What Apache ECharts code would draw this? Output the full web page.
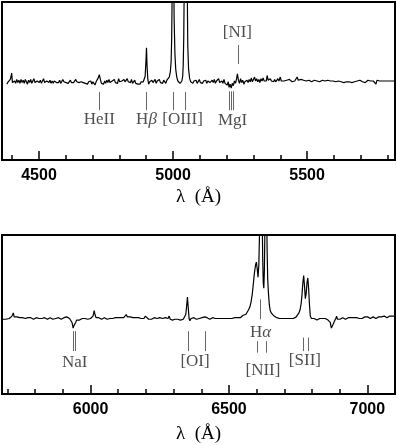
<!DOCTYPE html>
<html>
<head>
<meta charset="utf-8">
<script src="https://cdn.jsdelivr.net/npm/echarts@6/dist/echarts.min.js"></script>
<style>
  html, body { margin: 0; padding: 0; background: #fff; }
  #main { width: 397px; height: 445px; }
</style>
</head>
<body>
<div id="main"></div>
<script>
// spectrum, upper panel (wavelength in Å, relative flux)
var topSpectrum = [
  [4380,0.96],[4385,0.99],[4389,0.97],[4393,1.02],[4396,1.06],[4398,1.10],[4401,0.98],[4405,0.96],
  [4409,1.00],[4413,0.97],[4417,1.02],[4421,0.98],[4425,1.01],[4429,0.97],[4433,1.02],[4437,0.98],
  [4441,1.01],[4445,0.97],[4449,1.02],[4453,0.99],[4457,0.96],[4461,1.01],[4465,0.98],[4469,1.02],
  [4473,0.97],[4477,1.00],[4481,1.03],[4485,0.98],[4489,0.96],[4493,1.00],[4497,1.02],[4501,0.98],
  [4505,1.01],[4509,0.97],[4513,1.00],[4517,1.03],[4521,0.98],[4525,0.96],[4529,1.00],[4533,1.02],
  [4537,0.98],[4541,1.01],[4545,0.97],[4549,1.00],[4553,0.97],[4557,1.00],[4561,1.01],[4565,0.98],
  [4569,1.00],[4573,0.98],[4577,1.01],[4581,0.97],[4585,0.99],[4589,1.02],[4593,0.99],[4597,1.01],
  [4601,0.98],[4605,1.00],[4609,0.97],[4613,0.99],[4617,1.01],[4621,0.98],[4625,1.00],[4629,0.98],
  [4633,1.00],[4637,1.02],[4641,0.99],[4645,1.01],[4649,0.98],[4653,0.97],[4657,0.99],[4661,0.97],
  [4665,0.98],[4669,1.00],[4673,0.97],[4677,0.99],[4681,0.96],[4685,0.99],[4689,0.97],[4693,1.00],
  [4697,0.96],[4701,0.99],[4705,0.97],[4709,0.95],[4713,0.99],[4717,1.01],[4721,1.04],[4725,1.08],
  [4729,1.02],[4733,0.97],[4737,0.99],[4741,0.96],[4745,1.00],[4749,0.97],[4753,1.01],[4757,0.98],
  [4761,1.02],[4765,0.98],[4769,0.96],[4773,1.00],[4777,0.98],[4781,1.02],[4785,0.98],[4789,1.00],
  [4793,0.97],[4797,1.03],[4801,0.99],[4805,0.97],[4809,1.00],[4813,0.98],[4817,1.02],[4821,0.99],
  [4825,0.97],[4829,1.03],[4833,0.99],[4837,1.01],[4841,0.98],[4845,1.02],[4849,0.97],[4853,0.99],
  [4857,1.01],[4861,0.97],[4865,0.99],[4869,0.96],[4873,0.98],[4877,0.96],[4881,0.99],[4885,0.97],
  [4889,0.99],[4893,1.00],[4896,1.06],[4899,1.25],[4901,1.42],[4903,1.20],[4906,1.02],[4909,0.96],
  [4913,0.99],[4917,0.97],[4921,1.01],[4925,0.98],[4929,1.00],[4933,1.02],[4937,0.97],[4941,1.00],
  [4945,0.98],[4949,1.02],[4953,0.98],[4957,1.00],[4961,0.97],[4965,1.01],[4969,0.99],[4973,0.97],
  [4977,1.01],[4982,1.02],[4986,1.05],[4990,1.12],[4993,1.25],[4995,1.55],[4997,2.20],[5000,3.60],
  [5002,2.70],[5004,1.80],[5007,1.35],[5010,1.15],[5014,1.05],[5018,1.00],[5022,0.99],[5026,0.97],
  [5030,0.96],[5033,1.00],[5036,1.06],[5038,1.20],[5040,1.55],[5042,2.30],[5045,5.00],[5048,9.00],
  [5051,4.00],[5053,2.20],[5055,1.45],[5058,1.15],[5062,1.03],[5066,0.99],[5070,1.01],[5074,0.97],
  [5078,1.00],[5082,0.98],[5086,1.01],[5090,0.97],[5094,0.99],[5098,1.02],[5102,0.98],[5106,1.00],
  [5110,0.97],[5114,1.00],[5118,0.98],[5122,1.01],[5126,0.97],[5130,1.00],[5134,1.02],[5138,0.98],
  [5142,0.97],[5146,1.01],[5150,0.98],[5154,1.02],[5158,0.97],[5162,1.00],[5166,0.98],[5170,1.03],
  [5174,0.98],[5178,0.96],[5182,1.00],[5186,0.97],[5190,1.02],[5194,0.97],[5198,0.99],[5202,0.95],
  [5206,0.99],[5209,0.92],[5213,0.96],[5217,0.91],[5221,0.97],[5225,0.94],[5229,1.00],[5233,0.97],
  [5237,1.03],[5240,1.09],[5244,1.01],[5248,0.97],[5252,1.03],[5256,0.98],[5260,1.01],[5264,0.96],
  [5268,0.99],[5272,0.97],[5276,1.01],[5280,0.98],[5284,1.02],[5288,0.99],[5292,1.04],[5296,0.99],
  [5300,1.01],[5304,1.05],[5308,1.00],[5312,1.03],[5316,0.99],[5320,1.02],[5324,0.98],[5328,1.03],
  [5332,1.00],[5336,1.04],[5340,1.00],[5344,1.02],[5348,1.00],[5351,1.07],[5355,1.01],[5359,0.99],
  [5363,1.03],[5367,1.00],[5371,1.02],[5375,0.99],[5379,1.02],[5383,0.99],[5387,1.01],[5391,1.03],
  [5395,1.00],[5400,1.05],[5404,1.00],[5409,1.02],[5414,1.00],[5419,1.02],[5424,1.01],[5429,1.00],
  [5434,1.02],[5439,1.00],[5444,0.99],[5449,1.01],[5454,1.00],[5459,1.02],[5463,1.05],[5467,1.01],
  [5472,1.00],[5477,1.02],[5482,1.00],[5487,1.01],[5492,1.00],[5497,1.00],[5502,0.99],[5507,1.01],
  [5512,1.00],[5517,0.99],[5522,1.00],[5527,1.01],[5532,0.99],[5537,1.00],[5542,1.02],[5547,0.99],
  [5552,1.00],[5557,1.01],[5562,0.99],[5567,1.00],[5572,1.00],[5577,1.01],[5582,0.99],[5587,1.00],
  [5592,0.98],[5597,1.00],[5602,1.01],[5607,0.99],[5612,0.98],[5617,1.00],[5622,1.01],[5627,0.99],
  [5632,1.00],[5637,0.98],[5642,1.00],[5647,0.99],[5652,1.01],[5657,0.99],[5662,1.00],[5667,0.98],
  [5672,1.00],[5677,0.99],[5682,0.98],[5687,1.00],[5692,0.99],[5697,1.01],[5702,1.00],[5707,0.99],
  [5712,1.00],[5717,0.98],[5722,1.00],[5727,1.01],[5732,0.99],[5737,1.00],[5742,0.98],[5747,1.00],
  [5752,0.99],[5757,0.96],[5761,1.01],[5766,1.03],[5771,1.00],[5776,1.01],[5781,1.00],[5786,1.02],
  [5791,1.00],[5796,1.01],[5801,1.00],[5806,1.02],[5811,1.00],[5816,1.01],[5821,1.00],[5826,1.01],
  [5830,1.00]
];

// spectrum, lower panel
var bottomSpectrum = [
  [5682,0.94],[5688,0.95],[5694,0.94],[5700,0.95],[5706,0.95],[5711,0.96],[5716,0.98],[5721,1.02],
  [5724,0.97],[5729,0.96],[5734,0.97],[5739,0.95],[5744,0.96],[5749,0.95],[5754,0.96],[5759,0.94],
  [5764,0.95],[5769,0.97],[5774,0.96],[5779,0.95],[5784,0.96],[5789,0.95],[5794,0.94],[5799,0.95],
  [5804,0.96],[5809,0.94],[5814,0.95],[5819,0.96],[5824,0.95],[5829,0.94],[5834,0.96],[5839,0.95],
  [5844,0.94],[5849,0.95],[5854,0.96],[5859,0.95],[5864,0.94],[5869,0.96],[5874,0.95],[5879,0.94],
  [5884,0.96],[5889,0.95],[5894,0.94],[5899,0.95],[5904,0.96],[5909,0.95],[5914,0.97],[5919,0.98],
  [5924,0.95],[5929,0.93],[5933,0.90],[5937,0.83],[5940,0.86],[5943,0.84],[5946,0.90],[5950,0.93],
  [5955,0.94],[5960,0.93],[5965,0.94],[5970,0.95],[5975,0.94],[5980,0.95],[5985,0.95],[5990,0.94],
  [5995,0.96],[6000,0.95],[6005,0.96],[6009,0.98],[6013,1.05],[6016,1.00],[6020,0.96],[6025,0.95],
  [6030,0.96],[6035,0.95],[6040,0.94],[6045,0.95],[6050,0.96],[6055,0.95],[6060,0.94],[6065,0.95],
  [6070,0.95],[6075,0.96],[6080,0.95],[6085,0.94],[6090,0.96],[6095,0.95],[6100,0.96],[6105,0.95],
  [6110,0.96],[6115,0.97],[6120,0.96],[6125,0.98],[6129,1.00],[6133,0.97],[6138,0.96],[6143,0.97],
  [6148,0.95],[6153,0.96],[6158,0.95],[6163,0.96],[6168,0.95],[6173,0.96],[6178,0.94],[6183,0.95],
  [6188,0.96],[6193,0.95],[6198,0.98],[6202,1.00],[6205,0.96],[6210,0.94],[6215,0.95],[6220,0.94],
  [6225,0.95],[6230,0.96],[6235,0.94],[6240,0.95],[6245,0.94],[6250,0.96],[6255,0.94],[6260,0.95],
  [6265,0.93],[6270,0.96],[6275,0.94],[6280,0.95],[6284,0.98],[6288,0.94],[6292,0.96],[6296,0.93],
  [6300,0.95],[6305,0.94],[6310,0.96],[6315,0.94],[6320,0.95],[6325,0.93],[6330,0.95],[6335,0.94],
  [6340,0.96],[6344,1.00],[6347,1.10],[6350,1.22],[6353,1.08],[6356,0.95],[6359,0.92],[6363,0.95],
  [6368,0.94],[6373,0.96],[6378,0.95],[6383,0.94],[6388,0.96],[6393,0.95],[6398,0.94],[6403,0.96],
  [6408,0.95],[6413,0.97],[6417,0.99],[6421,0.96],[6426,0.95],[6431,0.94],[6436,0.95],[6441,0.96],
  [6446,0.94],[6451,0.95],[6456,0.94],[6461,0.95],[6466,0.94],[6471,0.95],[6476,0.94],[6481,0.95],
  [6486,0.94],[6491,0.95],[6496,0.94],[6501,0.95],[6506,0.96],[6511,0.95],[6516,0.95],[6521,0.96],
  [6526,0.95],[6531,0.96],[6536,0.97],[6541,0.96],[6546,0.97],[6551,0.99],[6556,0.98],[6561,1.00],
  [6566,1.02],[6571,1.06],[6576,1.10],[6580,1.16],[6584,1.25],[6588,1.38],[6592,1.52],[6596,1.62],
  [6599,1.66],[6602,1.58],[6605,1.47],[6608,1.62],[6610,1.95],[6612,2.40],[6614,3.10],[6616,3.60],
  [6618,3.10],[6620,2.30],[6622,1.70],[6624,1.40],[6626,1.33],[6628,1.55],[6630,2.10],[6632,2.90],
  [6634,3.00],[6636,2.40],[6638,1.80],[6640,1.45],[6643,1.25],[6646,1.12],[6649,1.05],[6653,1.02],
  [6658,1.00],[6663,0.98],[6668,0.97],[6673,0.96],[6678,0.97],[6683,0.95],[6688,0.96],[6693,0.95],
  [6698,0.96],[6703,0.95],[6708,0.94],[6713,0.95],[6718,0.94],[6723,0.95],[6728,0.94],[6733,0.95],
  [6738,0.96],[6743,0.97],[6748,0.99],[6753,1.02],[6757,1.06],[6761,1.14],[6764,1.25],[6767,1.40],
  [6770,1.49],[6773,1.36],[6776,1.20],[6779,1.26],[6782,1.40],[6785,1.46],[6788,1.32],[6791,1.12],
  [6794,0.98],[6798,0.95],[6803,0.94],[6808,0.95],[6813,0.94],[6818,0.93],[6823,0.94],[6828,0.95],
  [6833,0.94],[6838,0.95],[6843,0.94],[6848,0.95],[6853,0.94],[6858,0.93],[6862,0.94],[6866,0.90],
  [6870,0.83],[6874,0.86],[6878,0.88],[6882,0.92],[6886,0.95],[6889,0.98],[6892,0.94],[6896,0.95],
  [6901,0.94],[6906,0.95],[6911,0.96],[6916,0.95],[6921,0.94],[6926,0.95],[6931,0.96],[6936,0.95],
  [6941,0.96],[6946,0.95],[6951,0.96],[6956,0.95],[6961,0.96],[6966,0.97],[6971,0.95],[6976,0.96],
  [6981,0.95],[6986,0.96],[6991,0.97],[6996,0.96],[7001,0.97],[7006,0.96],[7011,0.95],[7016,0.96],
  [7021,0.97],[7026,0.96],[7031,0.95],[7036,0.96],[7041,0.97],[7046,0.96],[7051,0.97],[7056,0.96],
  [7061,0.98],[7066,0.97],[7071,0.96],[7076,0.97],[7081,0.98],[7086,0.97],[7091,0.98],[7096,0.97],
  [7100,0.98]
];

// line identifications
var topLineNames = ['HeII', 'Hβ', '[OIII]', 'MgI', '[NI]'];
var topLineWaves = [[4725], [4901], [5000, 5047], [5210, 5216, 5225], [5243]];
var bottomLineNames = ['NaI', '[OI]', 'Hα', '[NII]', '[SII]'];
var bottomLineWaves = [[5936, 5943], [6352, 6415], [6614], [6601, 6635], [6770, 6785]];

// axis ticks
var topMajorTicks = [4500, 5000, 5500];
var topMinorTicks = [4400, 4500, 4600, 4700, 4800, 4900, 5000, 5100, 5200, 5300, 5400, 5500, 5600, 5700, 5800];
var bottomMajorTicks = [6000, 6500, 7000];
var bottomMinorTicks = [5700, 5800, 5900, 6000, 6100, 6200, 6300, 6400, 6500, 6600, 6700, 6800, 6900, 7000];

// where the tick marks and labels sit (flux units), per line name
var markLayout = {
  'HeII':   { line: [0.63, 0.86], label: 0.51, dx: 0 },
  'Hβ':     { line: [0.63, 0.86], label: 0.51, dx: 0 },
  '[OIII]': { line: [0.63, 0.86], label: 0.51, dx: 12 },
  'MgI':    { line: [0.63, 0.87], label: 0.50, dx: 5 },
  '[NI]':   { line: [1.215, 1.456], label: 1.61, dx: -3 },
  'NaI':    { line: [0.54, 0.79], label: 0.40, dx: 3 },
  '[OI]':   { line: [0.54, 0.79], label: 0.41, dx: -6 },
  'Hα':     { line: [0.94, 1.19], label: 0.775, dx: 0 },
  '[NII]':  { line: [0.52, 0.665], label: 0.29, dx: 5 },
  '[SII]':  { line: [0.54, 0.71], label: 0.415, dx: -3 }
};

var serif = 'Liberation Serif';
var textColor = '#222';

function buildMarks(names, waves) {
  var segs = [], labels = [];
  names.forEach(function (n, i) {
    var lay = markLayout[n];
    var sum = 0;
    waves[i].forEach(function (w) {
      segs.push([{ coord: [w, lay.line[0]] }, { coord: [w, lay.line[1]] }]);
      sum += w;
    });
    labels.push([sum / waves[i].length + lay.dx, lay.label, n]);
  });
  return { segs: segs, labels: labels };
}

function xAxes(g, min, max, majors, minors, nameGap) {
  return [{
    gridIndex: g, type: 'value', position: 'bottom', min: min, max: max,
    axisLine: { show: false }, splitLine: { show: false },
    axisTick: { show: true, inside: true, length: 9, customValues: majors,
      lineStyle: { color: '#000', width: 1.5 } },
    axisLabel: { customValues: majors, margin: 8, color: '#000',
      fontFamily: 'Liberation Sans', fontSize: 16, fontWeight: 'bold',
      formatter: function (v) { return String(v); } },
    name: 'λ  (Å)', nameLocation: 'middle', nameGap: nameGap,
    nameTextStyle: { fontFamily: serif, fontSize: 19, color: '#000' }
  }, {
    gridIndex: g, type: 'value', position: 'bottom', offset: 0, min: min, max: max,
    axisLine: { show: false }, splitLine: { show: false },
    axisTick: { show: true, inside: true, length: 5, customValues: minors,
      lineStyle: { color: '#000', width: 1.5 } },
    axisLabel: { show: false }
  }];
}

function seriesFor(g, spectrum, marks) {
  return [{
    type: 'line', xAxisIndex: 2 * g, yAxisIndex: g,
    data: spectrum, showSymbol: false, clip: true,
    lineStyle: { color: '#000', width: 1.2 },
    markLine: {
      silent: true, symbol: ['none', 'none'], label: { show: false },
      lineStyle: { color: '#666', width: 1, type: 'solid' },
      data: marks.segs
    }
  }, {
    type: 'scatter', xAxisIndex: 2 * g, yAxisIndex: g,
    symbolSize: 1, itemStyle: { color: 'rgba(0,0,0,0)' },
    data: marks.labels,
    label: {
      show: true, position: 'inside', color: textColor,
      fontFamily: serif, fontSize: 17,
      formatter: function (p) { return p.data[2].replace(/([αβ])/, '{g|$1}'); },
      rich: { g: { fontFamily: serif, fontStyle: 'italic', fontSize: 17, color: textColor } }
    }
  }];
}

var topMarks = buildMarks(topLineNames, topLineWaves);
var bottomMarks = buildMarks(bottomLineNames, bottomLineWaves);

var myChart = echarts.init(document.getElementById('main'));
var option = {
  animation: false,
  grid: [
    { left: 2, right: 2, top: 2, height: 158, show: true, borderColor: '#000', borderWidth: 2 },
    { left: 2, right: 2, top: 235, height: 160, show: true, borderColor: '#000', borderWidth: 2 }
  ],
  xAxis: xAxes(0, 4362, 5828, topMajorTicks, topMinorTicks, 28)
    .concat(xAxes(1, 5680, 7100, bottomMajorTicks, bottomMinorTicks, 31)),
  yAxis: [
    { gridIndex: 0, type: 'value', min: 0, max: 2, show: false },
    { gridIndex: 1, type: 'value', min: 0, max: 2, show: false }
  ],
  series: seriesFor(0, topSpectrum, topMarks).concat(seriesFor(1, bottomSpectrum, bottomMarks))
};
myChart.setOption(option);
</script>
</body>
</html>
